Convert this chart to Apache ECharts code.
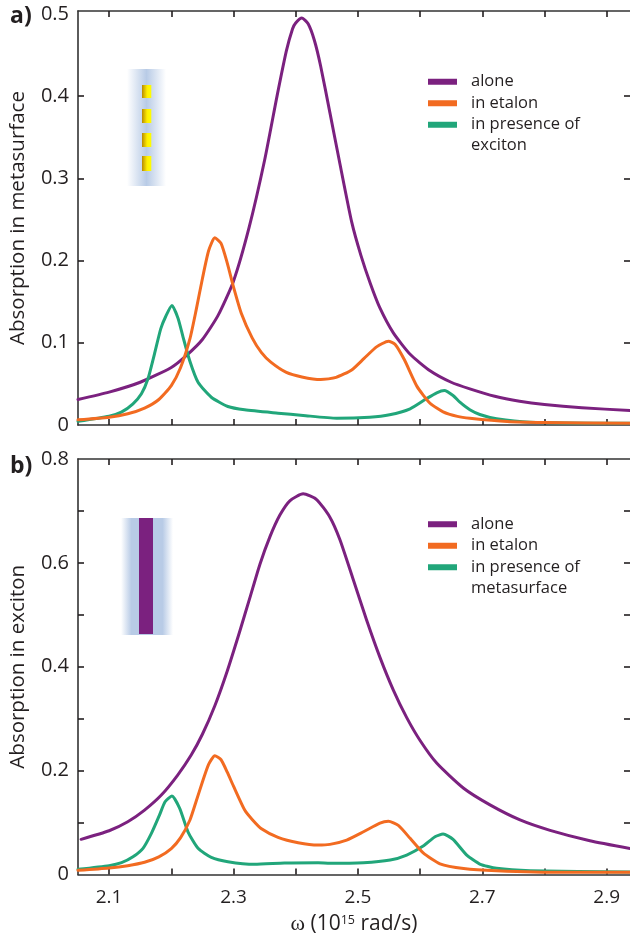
<!DOCTYPE html>
<html><head><meta charset="utf-8">
<style>html,body{margin:0;padding:0;background:#fff}#c{width:630px;height:938px}</style>
<script src="https://cdn.jsdelivr.net/npm/echarts@6/dist/echarts.min.js"></script>
</head><body><div id="c"></div>
<script>
// --- labels ---
const xTickValues=[2.1,2.2,2.3,2.4,2.5,2.6,2.7,2.8,2.9];
const xLabelValues=[2.1,2.3,2.5,2.7,2.9];
const yTicksA=[0.1,0.2,0.3,0.4];
const yLabelsA=[0,0.1,0.2,0.3,0.4,0.5];
const yTicksB=[0.1,0.2,0.3,0.4,0.5,0.6,0.7];
const yLabelsB=[0,0.2,0.4,0.6,0.8];
// --- panel a ---
const aAloneX=[2.05,2.10,2.15,2.20,2.225,2.25,2.275,2.30,2.325,2.35,2.37,2.385,2.395,2.40,2.41,2.42,2.43,2.44,2.455,2.47,2.49,2.505,2.52,2.535,2.557,2.584,2.616,2.65,2.68,2.72,2.76,2.80,2.86,2.9375];
const aAloneY=[0.031,0.040,0.052,0.070,0.085,0.104,0.133,0.175,0.240,0.322,0.400,0.455,0.482,0.489,0.495,0.488,0.468,0.437,0.380,0.322,0.247,0.206,0.172,0.143,0.112,0.086,0.066,0.052,0.044,0.035,0.029,0.025,0.021,0.0176];
const aEtalonX=[2.05,2.10,2.13,2.157,2.18,2.20,2.215,2.23,2.24,2.25,2.26,2.27,2.28,2.29,2.30,2.3125,2.33,2.345,2.36,2.385,2.41,2.44,2.465,2.49,2.51,2.53,2.549,2.56,2.575,2.595,2.616,2.637,2.66,2.68,2.74,2.80,2.9375];
const aEtalonY=[0.0063,0.0095,0.0136,0.0205,0.031,0.048,0.070,0.105,0.140,0.178,0.212,0.2277,0.221,0.197,0.168,0.136,0.106,0.088,0.0765,0.064,0.0585,0.0553,0.058,0.067,0.081,0.095,0.102,0.098,0.079,0.047,0.0265,0.016,0.0105,0.0082,0.0042,0.003,0.002];
const aExcitonX=[2.05,2.10,2.1197,2.1384,2.152,2.1625,2.173,2.183,2.191,2.201,2.2108,2.2189,2.2295,2.243,2.2643,2.291,2.318,2.3716,2.412,2.466,2.519,2.551,2.584,2.61,2.6267,2.639,2.653,2.664,2.68,2.696,2.723,2.777,2.9375];
const aExcitonY=[0.0046,0.0107,0.0156,0.0258,0.038,0.0562,0.0866,0.117,0.132,0.1454,0.130,0.107,0.0785,0.052,0.0338,0.0225,0.0185,0.0144,0.0116,0.0083,0.0095,0.0124,0.0197,0.0319,0.0392,0.042,0.0359,0.0277,0.0185,0.0128,0.0075,0.0034,0.002];
// --- panel b ---
const bAloneX=[2.055,2.10,2.13,2.157,2.184,2.21,2.232,2.25,2.27,2.29,2.31,2.3264,2.3424,2.3585,2.3746,2.391,2.412,2.4336,2.455,2.471,2.4925,2.514,2.5355,2.557,2.5785,2.60,2.627,2.67,2.7124,2.7607,2.809,2.873,2.9375];
const bAloneY=[0.0677,0.0842,0.1015,0.124,0.153,0.191,0.230,0.270,0.325,0.392,0.468,0.533,0.597,0.650,0.692,0.720,0.733,0.722,0.688,0.645,0.568,0.490,0.418,0.355,0.302,0.258,0.214,0.166,0.134,0.105,0.085,0.065,0.050];
const bEtalonX=[2.05,2.10,2.13,2.157,2.18,2.20,2.215,2.23,2.24,2.25,2.26,2.27,2.28,2.29,2.30,2.318,2.33,2.345,2.3716,2.404,2.436,2.455,2.482,2.509,2.5355,2.549,2.565,2.584,2.605,2.632,2.67,2.723,2.83,2.9375];
const bEtalonY=[0.008,0.0125,0.017,0.0235,0.034,0.050,0.071,0.105,0.141,0.178,0.212,0.2285,0.221,0.197,0.170,0.124,0.106,0.088,0.0715,0.0612,0.0567,0.058,0.0663,0.0823,0.099,0.1025,0.0945,0.0696,0.0415,0.0205,0.0115,0.0073,0.0042,0.0042];
const bMetaX=[2.05,2.10,2.12,2.1384,2.1545,2.168,2.181,2.19,2.201,2.2135,2.2268,2.243,2.2643,2.291,2.334,2.382,2.436,2.455,2.509,2.552,2.5785,2.605,2.624,2.637,2.653,2.675,2.696,2.723,2.777,2.9375];
const bMetaY=[0.01,0.017,0.0227,0.034,0.0504,0.0792,0.1144,0.14,0.151,0.1273,0.0823,0.0504,0.033,0.0246,0.0196,0.0221,0.0227,0.0215,0.0227,0.0279,0.0375,0.0548,0.0727,0.0779,0.0677,0.0375,0.0202,0.0119,0.0073,0.0048];
const namesA=['alone','in etalon','in presence of exciton'];
const namesB=['alone','in etalon','in presence of metasurface'];
const PURPLE='#7b217f',ORANGE='#f26b21',GREEN='#21a67a',INK='#231f20';
const FONT='"Open Sans"';
const zip=(x,y)=>x.map((v,i)=>[v,y[i]]);
function line(name,color,x,y,idx,z){
  return {type:'line',name,xAxisIndex:idx,yAxisIndex:idx,data:zip(x,y),showSymbol:false,symbol:'none',smooth:0.2,z,
    lineStyle:{color,width:3,cap:'round',join:'round'},itemStyle:{color},silent:true,animation:false};
}
const tick={inside:true,length:6,lineStyle:{color:INK,width:1.6}};
const spine={show:true,onZero:false,lineStyle:{color:'#333',width:1.6}};
function xAxes(g,bottomLabels){
  const base={type:'value',gridIndex:g,min:2.05,max:2.9375,splitLine:{show:false},axisLine:spine};
  return [
   {...base,position:'bottom',axisTick:{...tick,customValues:xTickValues},
     axisLabel:bottomLabels?{customValues:xLabelValues,color:INK,fontFamily:FONT,fontSize:19,margin:14,formatter:v=>v.toFixed(1)}:{show:false},
     ...(bottomLabels?{name:'{w|ω} (10{s|15} rad/s)',nameLocation:'middle',nameGap:39,
       nameTextStyle:{color:INK,fontFamily:FONT,fontSize:21,rich:{w:{fontFamily:'"Liberation Serif"',fontSize:22,color:INK},s:{fontSize:12.5,color:INK,verticalAlign:'top',padding:[0,0,8,0]}}}}:{})},
   {...base,position:'top',axisTick:{...tick,customValues:xTickValues},axisLabel:{show:false}}
  ];
}
function yAxes(g,max,ticks,labels,name){
  const base={type:'value',gridIndex:g,min:0,max,interval:0.1,splitLine:{show:false}};
  return [
   {...base,position:'left',axisLine:spine,axisTick:{...tick,customValues:ticks},
     axisLabel:{customValues:labels,color:INK,fontFamily:FONT,fontSize:20,margin:9},
     name,nameLocation:'middle',nameGap:49,nameTextStyle:{color:INK,fontFamily:FONT,fontSize:20.5}},
   {...base,position:'right',axisLine:{show:false},axisTick:{...tick,customValues:ticks},axisLabel:{show:false}}
  ];
}
function legend(names,top){
  return {orient:'vertical',left:428,top,itemWidth:29,itemHeight:6,itemGap:0,icon:'rect',data:names,selectedMode:false,padding:0,
    formatter:n=>n.startsWith('in presence')?'in presence of':n,
    textStyle:{color:INK,fontFamily:FONT,fontSize:16.5,lineHeight:21.5,padding:[0,0,0,9]}};
}
const blue='#b8cbe6';
const fade=(s)=>new echarts.graphic.LinearGradient(0,0,1,0,s);
const gA=[{type:'rect',shape:{x:127,y:69,width:39,height:117},style:{fill:fade([{offset:0,color:'#fff'},{offset:0.5,color:blue},{offset:1,color:'#fff'}])},z:1}];
[[85,13],[109,14],[133,14],[156,15]].forEach(([y,h])=>gA.push({type:'rect',shape:{x:142,y,width:9.3,height:h},
  style:{fill:fade([{offset:0,color:'#b88a00'},{offset:0.55,color:'#ffee00'},{offset:1,color:'#ffff00'}])},z:2}));
const gB=[{type:'rect',shape:{x:121,y:518,width:52,height:117},style:{fill:fade([{offset:0,color:'#fff'},{offset:0.2,color:blue},{offset:0.8,color:blue},{offset:1,color:'#fff'}])},z:1},
  {type:'rect',shape:{x:139,y:518,width:14,height:116},style:{fill:PURPLE},z:2}];
const txt=(x,y,text,size,weight)=>({type:'text',x,y,style:{text,fill:INK,font:`${weight||'normal'} ${size}px ${FONT}`,textVerticalAlign:'middle'},z:5});
const chart=echarts.init(document.getElementById('c'),null,{renderer:'canvas'});
chart.setOption({
  animation:false,backgroundColor:'#fff',
  grid:[{left:78,top:11,width:552,height:414,outerBoundsMode:'none'},{left:78,top:459,width:552,height:415.5,outerBoundsMode:'none'}],
  xAxis:[...xAxes(0,false),...xAxes(1,true)],
  yAxis:[...yAxes(0,0.5036,yTicksA,yLabelsA,'Absorption in metasurface'),...yAxes(1,0.8,yTicksB,yLabelsB,'Absorption in exciton')],
  legend:[legend(namesA,71),legend(namesB,513.5)],
  series:[
    line(namesA[0],PURPLE,aAloneX,aAloneY,0,3),
    line(namesA[2],GREEN,aExcitonX,aExcitonY,0,4),
    line(namesA[1],ORANGE,aEtalonX,aEtalonY,0,5),
    line(namesB[0],PURPLE,bAloneX,bAloneY,2,3),
    line(namesB[2],GREEN,bMetaX,bMetaY,2,4),
    line(namesB[1],ORANGE,bEtalonX,bEtalonY,2,5)
  ],
  graphic:[...gA,...gB,
    txt(10,16,'a)',23,'bold'),txt(10,466,'b)',23,'bold'),
    txt(471,145,'exciton',16.5),txt(471,588,'metasurface',16.5)]
});
</script></body></html>
